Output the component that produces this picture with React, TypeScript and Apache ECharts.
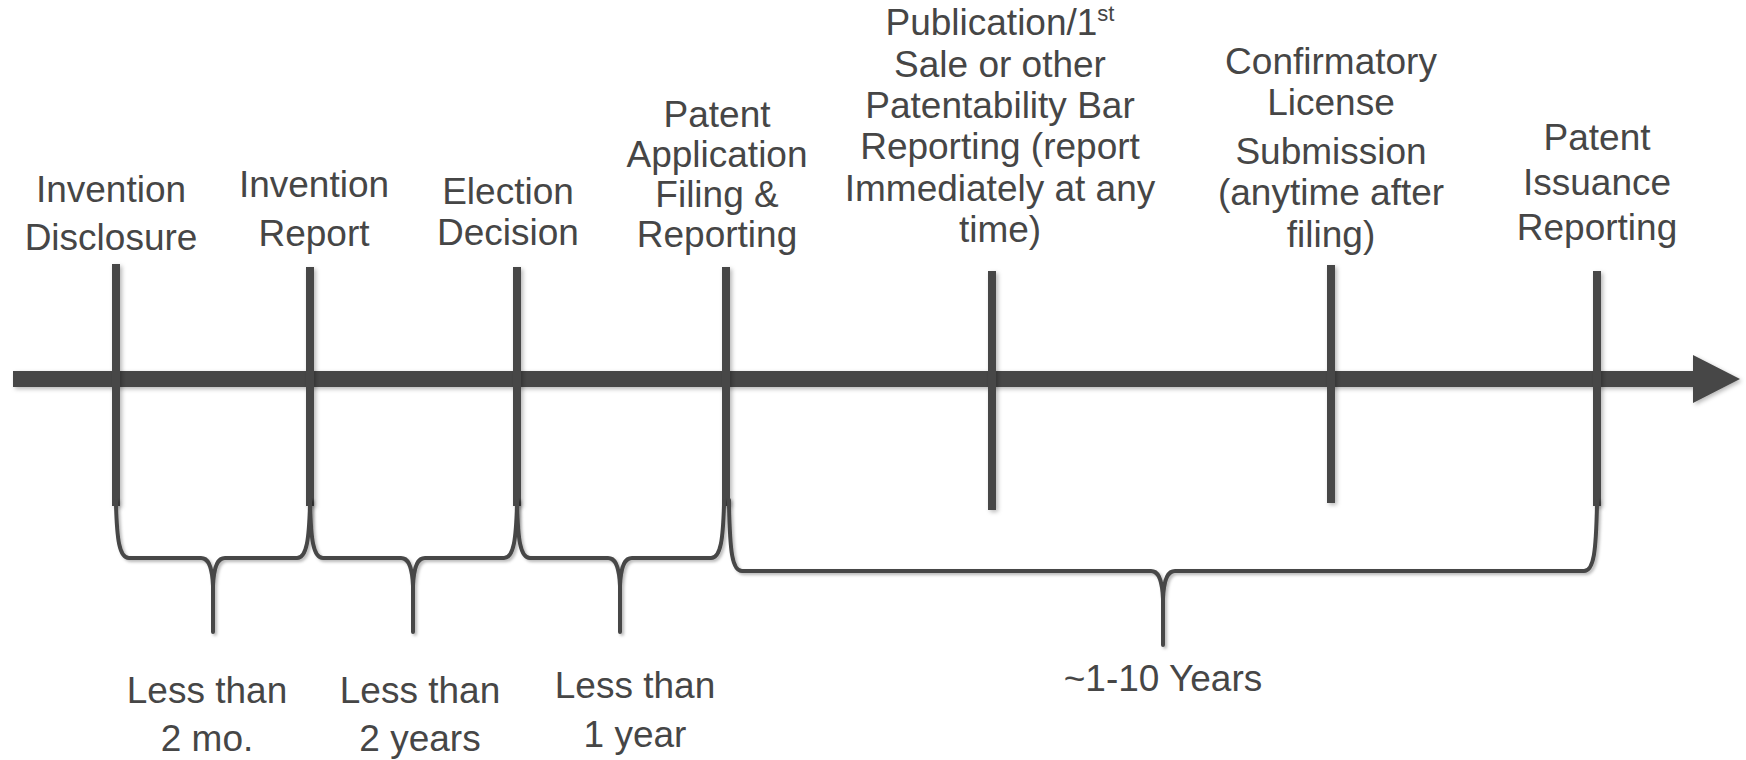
import React, { useEffect, useRef } from "react";
import * as echarts from "echarts";

const CANVAS_W = 1746;
const CANVAS_H = 760;

const LINE_COLOR = "#474747";
const TEXT_COLOR = "#464646";
const FONT_FAMILY = '"Liberation Sans", Arial, Helvetica, sans-serif';

// Timeline arrow: [startX, shaftEndX, tipX, centerY]
const timelineArrow = [[13, 1693, 1740, 379]];

// Milestones on the timeline
const milestoneX = [116, 310, 517, 726, 992, 1331, 1597];
const milestoneTop = [264, 267, 267, 267, 271, 265, 271];
const milestoneBottom = [506, 506, 506, 506, 510, 503, 506];

// Milestone labels (above the timeline)
const milestoneLabels = [
  "Invention\nDisclosure",
  "Invention\nReport",
  "Election\nDecision",
  "Patent\nApplication\nFiling &\nReporting",
  "Publication/1{sup|st}\nSale or other\nPatentability Bar\nReporting (report\nImmediately at any\ntime)",
  "Confirmatory\nLicense",
  "Submission\n(anytime after\nfiling)",
  "Patent\nIssuance\nReporting",
];
const milestoneLabelX = [111, 314, 508, 717, 1000, 1331, 1331, 1597];
const milestoneLabelY = [189, 184, 191, 114, 23, 61, 151, 137];
const milestoneLabelLineHeight = [48, 49, 41, 40, 41.3, 41, 41.5, 45];

// Duration braces (below the timeline)
const braceStart = [116, 310, 517, 729];
const braceEnd = [310, 517, 724, 1597];
const braceMid = [213, 413, 620, 1163];
const braceTop = [500, 500, 500, 500];
const braceBarY = [558, 558, 558, 571];
const braceTipY = [632, 632, 632, 645];

// Duration labels
const durationLabels = ["Less than\n2 mo.", "Less than\n2 years", "Less than\n1 year", "~1-10 Years"];
const durationX = [207, 420, 635, 1163];
const durationY = [690, 690, 685, 678];
const durationLineHeight = [48, 48, 49, 48];

const shadow = {
  shadowBlur: 4,
  shadowOffsetX: 2,
  shadowOffsetY: 2,
  shadowColor: "rgba(0,0,0,0.28)",
};

function textEl(api: any, x: number, y: number, lh: number, text: string) {
  const p = api.coord([x, y]);
  return {
    type: "text",
    x: p[0],
    y: p[1] - lh / 2,
    silent: true,
    style: {
      text,
      fill: TEXT_COLOR,
      fontSize: 37,
      fontFamily: FONT_FAMILY,
      align: "center",
      verticalAlign: "top",
      lineHeight: lh,
      rich: {
        sup: {
          fontSize: 22,
          fontFamily: FONT_FAMILY,
          fill: TEXT_COLOR,
          lineHeight: 41,
          verticalAlign: "top",
        },
      },
    },
  };
}

export default function App() {
  const ref = useRef<HTMLDivElement>(null);

  useEffect(() => {
    if (!ref.current) return;
    const chart = echarts.init(ref.current, undefined, { renderer: "svg" });

    const option: any = {
      animation: false,
      backgroundColor: "#ffffff",
      grid: { left: 0, right: 0, top: 0, bottom: 0 },
      xAxis: {
        type: "value",
        min: 0,
        max: CANVAS_W,
        show: false,
        axisLabel: { show: false },
        splitLine: { show: false },
      },
      yAxis: {
        type: "value",
        min: 0,
        max: CANVAS_H,
        inverse: true,
        show: false,
        axisLabel: { show: false },
        splitLine: { show: false },
      },
      series: [
        {
          type: "custom",
          name: "timeline",
          coordinateSystem: "cartesian2d",
          silent: true,
          z: 1,
          data: timelineArrow,
          renderItem: (params: any, api: any) => {
            const x0 = api.value(0);
            const x1 = api.value(1);
            const xt = api.value(2);
            const y = api.value(3);
            const a = api.coord([x0, y]);
            const b = api.coord([x1, y]);
            const t = api.coord([xt, y]);
            const half = 8;
            const head = 24;
            return {
              type: "polygon",
              shape: {
                points: [
                  [a[0], a[1] - half],
                  [b[0], b[1] - half],
                  [b[0], b[1] - head],
                  [t[0], t[1]],
                  [b[0], b[1] + head],
                  [b[0], b[1] + half],
                  [a[0], a[1] + half],
                ],
              },
              style: { fill: LINE_COLOR, ...shadow },
            };
          },
        },
        {
          type: "custom",
          name: "milestones",
          coordinateSystem: "cartesian2d",
          silent: true,
          z: 2,
          data: milestoneX.map((x, i) => [x, milestoneTop[i], milestoneBottom[i]]),
          renderItem: (params: any, api: any) => {
            const p1 = api.coord([api.value(0), api.value(1)]);
            const p2 = api.coord([api.value(0), api.value(2)]);
            return {
              type: "rect",
              shape: { x: p1[0] - 4, y: p1[1], width: 8, height: p2[1] - p1[1] },
              style: { fill: LINE_COLOR, ...shadow },
            };
          },
        },
        {
          type: "custom",
          name: "braces",
          coordinateSystem: "cartesian2d",
          silent: true,
          z: 3,
          data: braceStart.map((s, i) => [s, braceEnd[i], braceMid[i], braceTop[i], braceBarY[i], braceTipY[i]]),
          renderItem: (params: any, api: any) => {
            const L = api.coord([api.value(0), api.value(3)]);
            const R = api.coord([api.value(1), api.value(3)]);
            const M = api.coord([api.value(2), api.value(4)]);
            const T = api.coord([api.value(2), api.value(5)]);
            const x1 = L[0];
            const x2 = R[0];
            const yT = L[1];
            const yH = M[1];
            const xc = M[0];
            const yTip = T[1];
            const d = [
              `M ${x1} ${yT}`,
              `L ${x1} ${yT + 5}`,
              `C ${x1 + 1} ${yH - 20} ${x1 + 3} ${yH} ${x1 + 13} ${yH}`,
              `L ${xc - 12} ${yH}`,
              `C ${xc - 6} ${yH} ${xc - 1} ${yH + 5} ${xc} ${yH + 28}`,
              `L ${xc} ${yTip}`,
              `M ${xc} ${yH + 28}`,
              `C ${xc + 1} ${yH + 5} ${xc + 6} ${yH} ${xc + 12} ${yH}`,
              `L ${x2 - 13} ${yH}`,
              `C ${x2 - 3} ${yH} ${x2 - 1} ${yH - 20} ${x2} ${yT + 5}`,
              `L ${x2} ${yT}`,
            ].join(" ");
            return {
              type: "path",
              shape: { pathData: d },
              style: {
                fill: "none",
                stroke: LINE_COLOR,
                lineWidth: 4,
                lineCap: "round",
                lineJoin: "round",
                ...shadow,
                shadowBlur: 3,
              },
            };
          },
        },
        {
          type: "custom",
          name: "milestoneLabels",
          coordinateSystem: "cartesian2d",
          silent: true,
          z: 4,
          data: milestoneLabelX.map((x, i) => [x, milestoneLabelY[i], milestoneLabelLineHeight[i]]),
          renderItem: (params: any, api: any) =>
            textEl(api, api.value(0), api.value(1), api.value(2), milestoneLabels[params.dataIndex]),
        },
        {
          type: "custom",
          name: "durationLabels",
          coordinateSystem: "cartesian2d",
          silent: true,
          z: 4,
          data: durationX.map((x, i) => [x, durationY[i], durationLineHeight[i]]),
          renderItem: (params: any, api: any) =>
            textEl(api, api.value(0), api.value(1), api.value(2), durationLabels[params.dataIndex]),
        },
      ],
    };

    chart.setOption(option);
    return () => {
      chart.dispose();
    };
  }, []);

  return (
    <div
      ref={ref}
      style={{
        position: "fixed",
        left: 0,
        top: 0,
        width: CANVAS_W + "px",
        height: CANVAS_H + "px",
        background: "#ffffff",
      }}
    />
  );
}
